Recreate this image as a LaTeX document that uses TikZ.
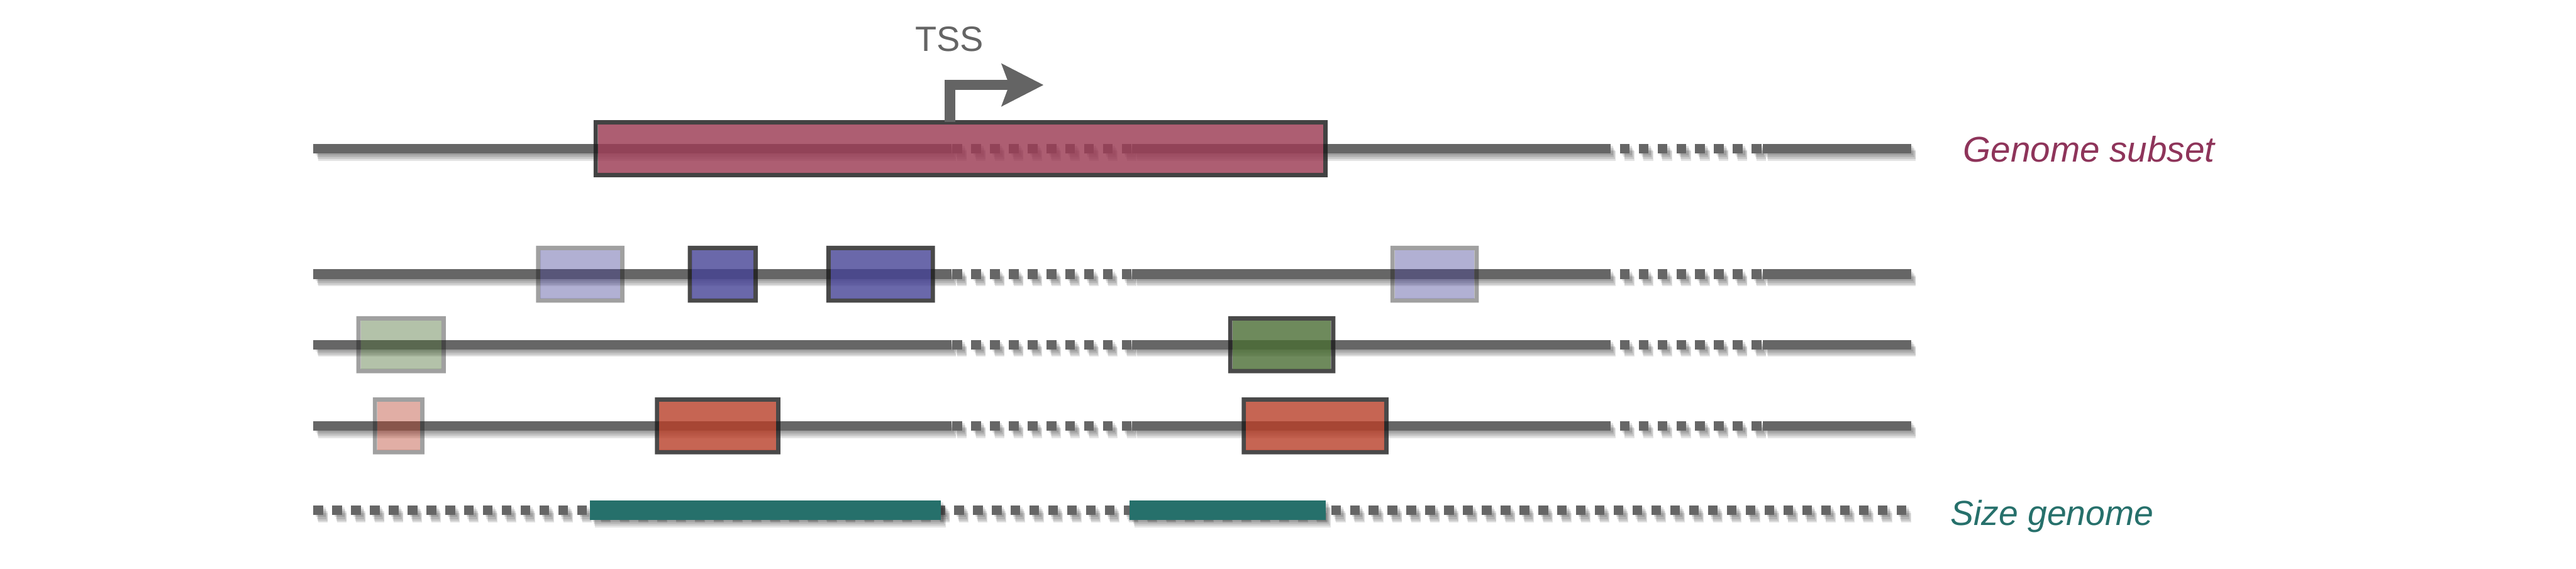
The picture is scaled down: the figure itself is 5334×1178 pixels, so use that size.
\documentclass[tikz,border=0pt]{standalone}
\usepackage{fontspec}
\setmainfont{Liberation Sans}
\usetikzlibrary{arrows.meta}
\usetikzlibrary{calc}

\definecolor{trackgray}{HTML}{666666}
\definecolor{tssgray}{HTML}{646464}
\definecolor{subsetred}{HTML}{8E345A}
\definecolor{sizeteal}{HTML}{26706B}
\definecolor{featpink}{HTML}{9C3D56}
\definecolor{featblue}{HTML}{454295}
\definecolor{featgreen}{HTML}{4A6D33}
\definecolor{featred}{HTML}{B83E28}
\definecolor{featrim}{HTML}{1C1C1C}

\tikzstyle{solidtrack} = [draw=trackgray, line width=0.2cm]
\tikzstyle{gaptrack} = [solidtrack, dash pattern=on 0.2cm off 0.19cm]
\tikzstyle{trackshadow} = [draw=black, opacity=0.11]
\tikzstyle{tracklabel} = [inner sep=0pt, anchor=base west]
\tikzstyle{tssarrow} = [draw=tssgray, line width=0.21cm, -{Stealth[length=0.86cm, width=0.86cm, inset=0.15cm]}]

\begin{document}
\begin{tikzpicture}[x=0.01cm, y=-0.01cm]
  \useasboundingbox (0,0) rectangle (5334,1178);

  \def\rim{9};
  \def\hh{59};

  % genome tracks
  \foreach \y in {308,568,714,882} {
    \foreach \xa/\xb/\sty in {649/1970/solidtrack, 1972/2344/gaptrack, 2344/3315/solidtrack, 3315/3650/gaptrack, 3650/3957/solidtrack} {
      \foreach \s/\t in {5/4, 7/8, 9/12, 10/15}
        \draw[\sty, trackshadow, shift={(\s,\t)}] (\xa,\y) -- (\xb,\y);
      \draw[\sty] (\xa,\y) -- (\xb,\y);
    }
  }

  % features
  \foreach \xa/\xb/\y/\col/\op in {1229/2749/308/featpink/0.83,
      1110/1293/568/featblue/0.42, 1424/1569/568/featblue/0.8, 1711/1936/568/featblue/0.8, 2879/3062/568/featblue/0.42,
      738/923/714/featgreen/0.42, 2543/2765/714/featgreen/0.8,
      772/879/882/featred/0.42, 1356/1616/882/featred/0.8, 2571/2875/882/featred/0.8} {
    \fill[featrim, opacity=\op, even odd rule] (\xa,\y-\hh) rectangle (\xb,\y+\hh)
         (\xa+\rim,\y-\hh+\rim) rectangle (\xb-\rim,\y+\hh-\rim);
    \fill[\col, opacity=\op] (\xa+\rim,\y-\hh+\rim) rectangle (\xb-\rim,\y+\hh-\rim);
  }

  % size genome track
  \foreach \s/\t in {5/4, 7/8, 9/12, 10/15}
    \draw[gaptrack, trackshadow, shift={(\s,\t)}] (649,1057) -- (3952,1057);
  \draw[gaptrack] (649,1057) -- (3952,1057);
  \foreach \xa/\xb in {1222/1948, 2339/2745} {
    \foreach \s/\t in {5/4, 7/8, 9/12, 10/15}
      \fill[black, opacity=0.11, shift={(\s,\t)}] (\xa,1037) rectangle (\xb,1077);
    \fill[sizeteal] (\xa,1037) rectangle (\xb,1077);
  }

  % TSS
  \coordinate (tssfoot) at (1967,252);
  \coordinate (tsstip) at (2161,176);
  \draw[tssarrow] (tssfoot) |- (tsstip);
  \node[tracklabel, anchor=base, text=tssgray, font=\fontsize{20.7pt}{24pt}\selectfont] (tsslabel) at (1966,106) {TSS};

  \node[tracklabel, text=subsetred, font=\fontsize{21pt}{25pt}\selectfont\itshape] (subsetlabel) at (4064,335) {Genome subset};
  \node[tracklabel, text=sizeteal, font=\fontsize{20.5pt}{24pt}\selectfont\itshape] (sizelabel) at (4038,1088) {Size genome};

\end{tikzpicture}
\end{document}
